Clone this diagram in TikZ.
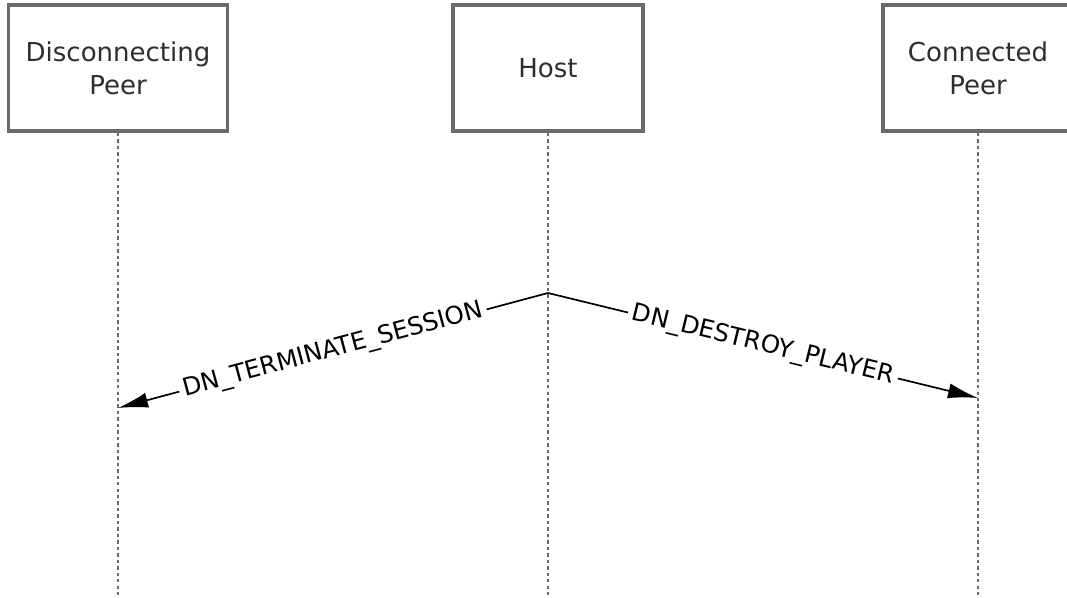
\documentclass[tikz,border=0pt]{standalone}
\usepackage{fontspec}
\setmainfont{DejaVu Sans}
\usetikzlibrary{arrows.meta}

\definecolor{boxgray}{HTML}{6A6A6A}
\definecolor{textgray}{HTML}{2E2E2E}

\begin{document}
\begin{tikzpicture}[x=0.025cm, y=-0.025cm,
  actor/.style={draw=boxgray, line width=2.5pt, fill=white, minimum height=3.15cm,
    align=center, font=\fontsize{18.5}{23.5}\selectfont, text=textgray, inner sep=0pt},
  lifeline/.style={draw=boxgray, line width=1.8pt, dash pattern=on 2.4pt off 2.2pt},
  msg/.style={draw=black, line width=1.2pt, -{Latex[length=0.75cm, width=0.38cm]}},
  lbl/.style={fill=white, sloped, inner sep=3pt, font=\fontsize{17.5}{20}\selectfont}]
\useasboundingbox (0,0) rectangle (1067,598);

% participants
\node[actor, minimum width=5.475cm] (dp) at (118,68) {Disconnecting\\Peer};
\node[actor, minimum width=4.75cm] (host) at (548,68) {Host};
\node[actor, minimum width=4.75cm] (cp) at (978,68) {Connected\\Peer};

% lifelines
\coordinate (dp-end) at (118,598);
\coordinate (host-end) at (548,598);
\coordinate (cp-end) at (978,598);
\draw[lifeline] (dp.south) -- (dp-end);
\draw[lifeline] (host.south) -- (host-end);
\draw[lifeline] (cp.south) -- (cp-end);

% messages
\coordinate (host-msg) at (548,293);
\coordinate (dp-msg) at (118,408);
\coordinate (cp-msg) at (978,398);
\draw[msg] (host-msg) -- node[lbl] {DN\_TERMINATE\_SESSION} (dp-msg);
\draw[msg] (host-msg) -- node[lbl] {DN\_DESTROY\_PLAYER} (cp-msg);
\end{tikzpicture}
\end{document}
